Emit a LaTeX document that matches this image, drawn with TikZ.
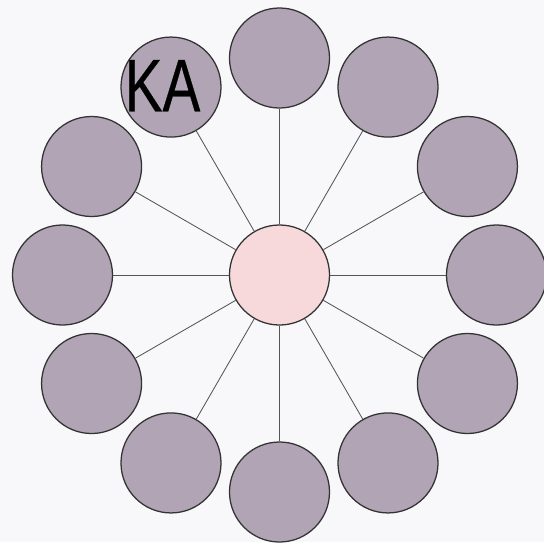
\documentclass[tikz,border=0pt]{standalone}
\usepackage{fontspec}
\setmainfont{Liberation Sans}
\newfontfamily\kafont[FakeStretch=0.76,FakeBold=0.4]{Liberation Sans}
\usetikzlibrary{positioning}
\definecolor{cBack}{HTML}{F8F8FA}
\definecolor{cPetal}{HTML}{B0A4B5}
\definecolor{cHub}{HTML}{F8D9DB}
\definecolor{cEdge}{HTML}{333333}
\definecolor{cSpoke}{HTML}{555555}

\begin{document}
\begin{tikzpicture}[x=0.025cm,y=0.025cm,
  petal/.style={circle,draw=cEdge,fill=cPetal,line width=0.9pt,
                minimum size=2.5cm,inner sep=0pt},
  hub/.style={circle,draw=cEdge,fill=cHub,line width=0.9pt,
              minimum size=2.5cm,inner sep=0pt},
  spoke/.style={cSpoke,line width=0.6pt}]

\fill[cBack] (-279.5,-267) rectangle (264.5,275);
\useasboundingbox (-279.5,-267) rectangle (264.5,275);

\node[hub] (hub) at (0,0) {};
\foreach \i in {0,...,11}{
  \node[petal] (p\i) at (\i*30:217) {};
  \draw[spoke] (hub) -- (p\i);
}
\node[font=\kafont\fontsize{53}{53}\selectfont,inner sep=0pt,xshift=-6,yshift=1]
  (ka) at (p4.center) {KA};
\end{tikzpicture}
\end{document}
